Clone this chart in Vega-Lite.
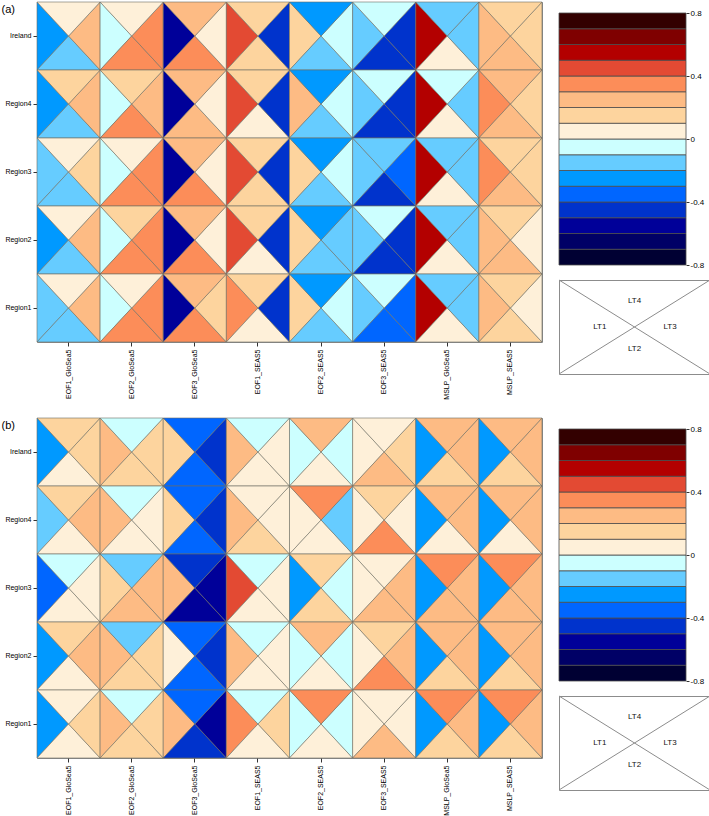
{
  "$schema": "https://vega.github.io/schema/vega-lite/v6.json",
  "background": "white",
  "padding": {"left": 0, "top": 0, "right": 0, "bottom": 0},
  "config": {
    "font": "Liberation Sans",
    "view": {"stroke": "#8c8c8c", "strokeWidth": 1},
    "axis": {"labelFont": "Liberation Sans", "titleFont": "Liberation Sans", "labelColor": "#000", "tickColor": "#333", "domain": false, "grid": false}
  },
  "datasets": {
    "cells": [
      {"p":"a","r":"Ireland","m":"EOF1_GloSea5","LT1":-0.25,"LT2":-0.15,"LT3":0.25,"LT4":0.05},
      {"p":"a","r":"Ireland","m":"EOF2_GloSea5","LT1":-0.05,"LT2":0.35,"LT3":0.35,"LT4":0.05},
      {"p":"a","r":"Ireland","m":"EOF3_GloSea5","LT1":-0.55,"LT2":0.35,"LT3":0.05,"LT4":0.25},
      {"p":"a","r":"Ireland","m":"EOF1_SEAS5","LT1":0.45,"LT2":0.15,"LT3":-0.45,"LT4":0.15},
      {"p":"a","r":"Ireland","m":"EOF2_SEAS5","LT1":0.15,"LT2":-0.15,"LT3":-0.05,"LT4":-0.25},
      {"p":"a","r":"Ireland","m":"EOF3_SEAS5","LT1":-0.15,"LT2":-0.45,"LT3":-0.45,"LT4":-0.05},
      {"p":"a","r":"Ireland","m":"MSLP_GloSea5","LT1":0.55,"LT2":0.05,"LT3":-0.15,"LT4":-0.15},
      {"p":"a","r":"Ireland","m":"MSLP_SEAS5","LT1":0.25,"LT2":0.25,"LT3":0.15,"LT4":0.15},
      {"p":"a","r":"Region4","m":"EOF1_GloSea5","LT1":-0.25,"LT2":-0.15,"LT3":0.25,"LT4":0.15},
      {"p":"a","r":"Region4","m":"EOF2_GloSea5","LT1":-0.05,"LT2":0.35,"LT3":0.25,"LT4":0.15},
      {"p":"a","r":"Region4","m":"EOF3_GloSea5","LT1":-0.55,"LT2":0.25,"LT3":0.05,"LT4":0.25},
      {"p":"a","r":"Region4","m":"EOF1_SEAS5","LT1":0.45,"LT2":0.05,"LT3":-0.45,"LT4":0.15},
      {"p":"a","r":"Region4","m":"EOF2_SEAS5","LT1":0.25,"LT2":-0.15,"LT3":-0.05,"LT4":-0.25},
      {"p":"a","r":"Region4","m":"EOF3_SEAS5","LT1":-0.15,"LT2":-0.45,"LT3":-0.45,"LT4":-0.05},
      {"p":"a","r":"Region4","m":"MSLP_GloSea5","LT1":0.55,"LT2":0.05,"LT3":-0.15,"LT4":-0.05},
      {"p":"a","r":"Region4","m":"MSLP_SEAS5","LT1":0.35,"LT2":0.25,"LT3":0.15,"LT4":0.25},
      {"p":"a","r":"Region3","m":"EOF1_GloSea5","LT1":-0.15,"LT2":-0.15,"LT3":0.15,"LT4":0.05},
      {"p":"a","r":"Region3","m":"EOF2_GloSea5","LT1":-0.05,"LT2":0.35,"LT3":0.35,"LT4":0.05},
      {"p":"a","r":"Region3","m":"EOF3_GloSea5","LT1":-0.55,"LT2":0.35,"LT3":0.05,"LT4":0.25},
      {"p":"a","r":"Region3","m":"EOF1_SEAS5","LT1":0.45,"LT2":0.15,"LT3":-0.45,"LT4":0.15},
      {"p":"a","r":"Region3","m":"EOF2_SEAS5","LT1":0.15,"LT2":-0.15,"LT3":-0.05,"LT4":-0.25},
      {"p":"a","r":"Region3","m":"EOF3_SEAS5","LT1":-0.15,"LT2":-0.45,"LT3":-0.35,"LT4":-0.15},
      {"p":"a","r":"Region3","m":"MSLP_GloSea5","LT1":0.55,"LT2":0.05,"LT3":-0.15,"LT4":-0.15},
      {"p":"a","r":"Region3","m":"MSLP_SEAS5","LT1":0.35,"LT2":0.25,"LT3":0.15,"LT4":0.15},
      {"p":"a","r":"Region2","m":"EOF1_GloSea5","LT1":-0.25,"LT2":-0.15,"LT3":0.25,"LT4":0.05},
      {"p":"a","r":"Region2","m":"EOF2_GloSea5","LT1":-0.05,"LT2":0.35,"LT3":0.35,"LT4":0.15},
      {"p":"a","r":"Region2","m":"EOF3_GloSea5","LT1":-0.55,"LT2":0.35,"LT3":0.05,"LT4":0.25},
      {"p":"a","r":"Region2","m":"EOF1_SEAS5","LT1":0.45,"LT2":0.05,"LT3":-0.45,"LT4":0.15},
      {"p":"a","r":"Region2","m":"EOF2_SEAS5","LT1":0.15,"LT2":-0.15,"LT3":-0.15,"LT4":-0.25},
      {"p":"a","r":"Region2","m":"EOF3_SEAS5","LT1":-0.15,"LT2":-0.45,"LT3":-0.45,"LT4":-0.05},
      {"p":"a","r":"Region2","m":"MSLP_GloSea5","LT1":0.55,"LT2":0.05,"LT3":-0.15,"LT4":-0.15},
      {"p":"a","r":"Region2","m":"MSLP_SEAS5","LT1":0.25,"LT2":0.25,"LT3":0.05,"LT4":0.15},
      {"p":"a","r":"Region1","m":"EOF1_GloSea5","LT1":-0.15,"LT2":-0.15,"LT3":0.25,"LT4":0.05},
      {"p":"a","r":"Region1","m":"EOF2_GloSea5","LT1":-0.05,"LT2":0.35,"LT3":0.35,"LT4":0.05},
      {"p":"a","r":"Region1","m":"EOF3_GloSea5","LT1":-0.55,"LT2":0.35,"LT3":0.15,"LT4":0.25},
      {"p":"a","r":"Region1","m":"EOF1_SEAS5","LT1":0.35,"LT2":0.05,"LT3":-0.45,"LT4":0.15},
      {"p":"a","r":"Region1","m":"EOF2_SEAS5","LT1":0.15,"LT2":-0.15,"LT3":-0.05,"LT4":-0.25},
      {"p":"a","r":"Region1","m":"EOF3_SEAS5","LT1":-0.15,"LT2":-0.35,"LT3":-0.35,"LT4":-0.05},
      {"p":"a","r":"Region1","m":"MSLP_GloSea5","LT1":0.55,"LT2":0.05,"LT3":-0.15,"LT4":-0.15},
      {"p":"a","r":"Region1","m":"MSLP_SEAS5","LT1":0.25,"LT2":0.15,"LT3":0.05,"LT4":0.15},
      {"p":"b","r":"Ireland","m":"EOF1_GloSea5","LT1":-0.25,"LT2":0.05,"LT3":0.15,"LT4":0.15},
      {"p":"b","r":"Ireland","m":"EOF2_GloSea5","LT1":0.25,"LT2":0.15,"LT3":0.15,"LT4":-0.05},
      {"p":"b","r":"Ireland","m":"EOF3_GloSea5","LT1":0.15,"LT2":-0.35,"LT3":-0.45,"LT4":-0.35},
      {"p":"b","r":"Ireland","m":"EOF1_SEAS5","LT1":0.25,"LT2":0.05,"LT3":0.05,"LT4":-0.05},
      {"p":"b","r":"Ireland","m":"EOF2_SEAS5","LT1":-0.05,"LT2":0.05,"LT3":-0.05,"LT4":0.25},
      {"p":"b","r":"Ireland","m":"EOF3_SEAS5","LT1":0.05,"LT2":0.25,"LT3":0.15,"LT4":0.05},
      {"p":"b","r":"Ireland","m":"MSLP_GloSea5","LT1":-0.25,"LT2":0.15,"LT3":0.25,"LT4":0.25},
      {"p":"b","r":"Ireland","m":"MSLP_SEAS5","LT1":-0.25,"LT2":0.15,"LT3":0.25,"LT4":0.25},
      {"p":"b","r":"Region4","m":"EOF1_GloSea5","LT1":-0.15,"LT2":0.05,"LT3":0.25,"LT4":0.15},
      {"p":"b","r":"Region4","m":"EOF2_GloSea5","LT1":0.25,"LT2":0.05,"LT3":0.05,"LT4":-0.05},
      {"p":"b","r":"Region4","m":"EOF3_GloSea5","LT1":0.15,"LT2":-0.35,"LT3":-0.45,"LT4":-0.35},
      {"p":"b","r":"Region4","m":"EOF1_SEAS5","LT1":0.25,"LT2":0.15,"LT3":0.05,"LT4":0.05},
      {"p":"b","r":"Region4","m":"EOF2_SEAS5","LT1":0.05,"LT2":0.05,"LT3":-0.15,"LT4":0.35},
      {"p":"b","r":"Region4","m":"EOF3_SEAS5","LT1":0.05,"LT2":0.35,"LT3":0.05,"LT4":0.15},
      {"p":"b","r":"Region4","m":"MSLP_GloSea5","LT1":-0.25,"LT2":0.05,"LT3":0.25,"LT4":0.25},
      {"p":"b","r":"Region4","m":"MSLP_SEAS5","LT1":-0.25,"LT2":0.05,"LT3":0.25,"LT4":0.25},
      {"p":"b","r":"Region3","m":"EOF1_GloSea5","LT1":-0.35,"LT2":0.05,"LT3":0.05,"LT4":-0.05},
      {"p":"b","r":"Region3","m":"EOF2_GloSea5","LT1":0.15,"LT2":0.25,"LT3":0.25,"LT4":-0.15},
      {"p":"b","r":"Region3","m":"EOF3_GloSea5","LT1":0.25,"LT2":-0.55,"LT3":-0.55,"LT4":-0.45},
      {"p":"b","r":"Region3","m":"EOF1_SEAS5","LT1":0.45,"LT2":0.05,"LT3":0.05,"LT4":-0.05},
      {"p":"b","r":"Region3","m":"EOF2_SEAS5","LT1":-0.25,"LT2":0.15,"LT3":-0.05,"LT4":0.15},
      {"p":"b","r":"Region3","m":"EOF3_SEAS5","LT1":0.05,"LT2":0.25,"LT3":0.25,"LT4":0.05},
      {"p":"b","r":"Region3","m":"MSLP_GloSea5","LT1":-0.25,"LT2":0.25,"LT3":0.25,"LT4":0.35},
      {"p":"b","r":"Region3","m":"MSLP_SEAS5","LT1":-0.25,"LT2":0.25,"LT3":0.25,"LT4":0.35},
      {"p":"b","r":"Region2","m":"EOF1_GloSea5","LT1":-0.25,"LT2":0.05,"LT3":0.25,"LT4":0.15},
      {"p":"b","r":"Region2","m":"EOF2_GloSea5","LT1":0.25,"LT2":0.15,"LT3":0.15,"LT4":-0.15},
      {"p":"b","r":"Region2","m":"EOF3_GloSea5","LT1":0.05,"LT2":-0.35,"LT3":-0.45,"LT4":-0.35},
      {"p":"b","r":"Region2","m":"EOF1_SEAS5","LT1":0.25,"LT2":0.05,"LT3":0.05,"LT4":-0.05},
      {"p":"b","r":"Region2","m":"EOF2_SEAS5","LT1":-0.05,"LT2":0.05,"LT3":-0.05,"LT4":0.25},
      {"p":"b","r":"Region2","m":"EOF3_SEAS5","LT1":0.05,"LT2":0.35,"LT3":0.25,"LT4":0.15},
      {"p":"b","r":"Region2","m":"MSLP_GloSea5","LT1":-0.25,"LT2":0.15,"LT3":0.25,"LT4":0.25},
      {"p":"b","r":"Region2","m":"MSLP_SEAS5","LT1":-0.25,"LT2":0.15,"LT3":0.25,"LT4":0.25},
      {"p":"b","r":"Region1","m":"EOF1_GloSea5","LT1":-0.25,"LT2":0.05,"LT3":0.15,"LT4":0.05},
      {"p":"b","r":"Region1","m":"EOF2_GloSea5","LT1":0.25,"LT2":0.15,"LT3":0.15,"LT4":-0.05},
      {"p":"b","r":"Region1","m":"EOF3_GloSea5","LT1":0.25,"LT2":-0.45,"LT3":-0.55,"LT4":-0.35},
      {"p":"b","r":"Region1","m":"EOF1_SEAS5","LT1":0.35,"LT2":0.05,"LT3":0.15,"LT4":-0.05},
      {"p":"b","r":"Region1","m":"EOF2_SEAS5","LT1":-0.05,"LT2":0.05,"LT3":-0.05,"LT4":0.35},
      {"p":"b","r":"Region1","m":"EOF3_SEAS5","LT1":0.05,"LT2":0.25,"LT3":0.05,"LT4":0.05},
      {"p":"b","r":"Region1","m":"MSLP_GloSea5","LT1":-0.25,"LT2":0.15,"LT3":0.25,"LT4":0.35},
      {"p":"b","r":"Region1","m":"MSLP_SEAS5","LT1":-0.25,"LT2":0.15,"LT3":0.25,"LT4":0.35}
    ],
    "bins": [
      {"lo":-0.8,"hi":-0.7,"mid":-0.75},{"lo":-0.7,"hi":-0.6,"mid":-0.65},{"lo":-0.6,"hi":-0.5,"mid":-0.55},{"lo":-0.5,"hi":-0.4,"mid":-0.45},
      {"lo":-0.4,"hi":-0.3,"mid":-0.35},{"lo":-0.3,"hi":-0.2,"mid":-0.25},{"lo":-0.2,"hi":-0.1,"mid":-0.15},{"lo":-0.1,"hi":0,"mid":-0.05},
      {"lo":0,"hi":0.1,"mid":0.05},{"lo":0.1,"hi":0.2,"mid":0.15},{"lo":0.2,"hi":0.3,"mid":0.25},{"lo":0.3,"hi":0.4,"mid":0.35},
      {"lo":0.4,"hi":0.5,"mid":0.45},{"lo":0.5,"hi":0.6,"mid":0.55},{"lo":0.6,"hi":0.7,"mid":0.65},{"lo":0.7,"hi":0.8,"mid":0.75}
    ]
  },
  "vconcat": [
    {
      "hconcat": [
        {
          "width": 505, "height": 340,
          "data": {"name": "cells"},
          "transform": [{"filter": "datum.p == 'a'"}, {"fold": ["LT1","LT2","LT3","LT4"], "as": ["lt","v"]}],
          "mark": {"type": "point", "filled": true, "opacity": 1, "size": 4624, "stroke": "#6d6d62", "strokeWidth": 0.6},
          "encoding": {
            "x": {"field": "m", "type": "nominal", "scale": {"type": "band", "paddingInner": 0, "paddingOuter": 0, "domain": ["EOF1_GloSea5","EOF2_GloSea5","EOF3_GloSea5","EOF1_SEAS5","EOF2_SEAS5","EOF3_SEAS5","MSLP_GloSea5","MSLP_SEAS5"]},
              "axis": {"title": null, "labelAngle": -90, "labelAlign": "right", "labelBaseline": "middle", "labelFontSize": 7, "tickSize": 4, "labelPadding": 3}},
            "y": {"field": "r", "type": "nominal", "scale": {"type": "band", "paddingInner": 0, "paddingOuter": 0, "domain": ["Ireland","Region4","Region3","Region2","Region1"]},
              "axis": {"title": "(a)", "titleAngle": 0, "titleX": -36, "titleY": 7, "titleAlign": "left", "titleBaseline": "middle", "titleFontSize": 11, "titleFontWeight": "normal", "labelFontSize": 7, "tickSize": 4, "labelPadding": 2}},
            "shape": {"field": "lt", "type": "nominal", "legend": null, "scale": {"domain": ["LT1","LT2","LT3","LT4"], "range": ["M-0.9283,-1L0,0L-0.9283,1Z", "M-0.9283,1L0,0L0.9283,1Z", "M0.9283,-1L0,0L0.9283,1Z", "M-0.9283,-1L0,0L0.9283,-1Z"]}},
            "fill": {"field": "v", "type": "quantitative", "legend": null, "scale": {"type": "threshold", "domain": [-0.7,-0.6,-0.5,-0.4,-0.3,-0.2,-0.1,0,0.1,0.2,0.3,0.4,0.5,0.6,0.7], "range": ["#000033","#000066","#000099","#0033CC","#0066FF","#0099FF","#66CCFF","#CCFFFF","#FEF0D9","#FDD49E","#FDBB84","#FC8D59","#E34A33","#B30000","#7F0000","#330000"]}}
          }
        },
        {
          "vconcat": [
            {
              "width": 127, "height": 263,
              "view": {"stroke": null},
              "data": {"name": "bins"},
              "mark": {"type": "rect", "stroke": "#4d4d4d", "strokeWidth": 0.8},
              "encoding": {
                "x": {"datum": 0, "type": "quantitative", "scale": {"domain": [0, 1], "nice": false}, "axis": null},
                "x2": {"datum": 1},
                "y": {"field": "lo", "type": "quantitative", "scale": {"domain": [-0.8, 0.8], "range": [263, 11], "nice": false, "zero": false},
                  "axis": {"orient": "right", "title": null, "values": [-0.8,-0.4,0,0.4,0.8], "labelExpr": "datum.value < 0 ? '-' + format(-datum.value, '.1f') : (datum.value == 0 ? '0' : format(datum.value, '.1f'))", "labelFontSize": 8, "tickSize": 3, "labelPadding": 1}},
                "y2": {"field": "hi"},
                "fill": {"field": "mid", "type": "quantitative", "legend": null, "scale": {"type": "threshold", "domain": [-0.7,-0.6,-0.5,-0.4,-0.3,-0.2,-0.1,0,0.1,0.2,0.3,0.4,0.5,0.6,0.7], "range": ["#000033","#000066","#000099","#0033CC","#0066FF","#0099FF","#66CCFF","#CCFFFF","#FEF0D9","#FDD49E","#FDBB84","#FC8D59","#E34A33","#B30000","#7F0000","#330000"]}}
              }
            },
            {
              "width": 151, "height": 94,
              "data": {"values": [{}]},
              "layer": [
                {"mark": {"type": "rule", "color": "#8c8c8c"}, "encoding": {"x": {"datum": 0, "type": "quantitative", "scale": {"domain": [0, 1], "nice": false}, "axis": null}, "y": {"datum": 0, "type": "quantitative", "scale": {"domain": [0, 1], "nice": false}, "axis": null}, "x2": {"datum": 1}, "y2": {"datum": 1}}},
                {"mark": {"type": "rule", "color": "#8c8c8c"}, "encoding": {"x": {"datum": 0, "type": "quantitative"}, "y": {"datum": 1, "type": "quantitative"}, "x2": {"datum": 1}, "y2": {"datum": 0}}},
                {"mark": {"type": "text", "text": "LT4", "fontSize": 8, "color": "#111"}, "encoding": {"x": {"datum": 0.5, "type": "quantitative"}, "y": {"datum": 0.78, "type": "quantitative"}}},
                {"mark": {"type": "text", "text": "LT1", "fontSize": 8, "color": "#111"}, "encoding": {"x": {"datum": 0.27, "type": "quantitative"}, "y": {"datum": 0.5, "type": "quantitative"}}},
                {"mark": {"type": "text", "text": "LT3", "fontSize": 8, "color": "#111"}, "encoding": {"x": {"datum": 0.735, "type": "quantitative"}, "y": {"datum": 0.5, "type": "quantitative"}}},
                {"mark": {"type": "text", "text": "LT2", "fontSize": 8, "color": "#111"}, "encoding": {"x": {"datum": 0.5, "type": "quantitative"}, "y": {"datum": 0.27, "type": "quantitative"}}}
              ]
            }
          ],
          "spacing": 10
        }
      ],
      "spacing": 14
    },
    {
      "hconcat": [
        {
          "width": 505, "height": 340,
          "data": {"name": "cells"},
          "transform": [{"filter": "datum.p == 'b'"}, {"fold": ["LT1","LT2","LT3","LT4"], "as": ["lt","v"]}],
          "mark": {"type": "point", "filled": true, "opacity": 1, "size": 4624, "stroke": "#6d6d62", "strokeWidth": 0.6},
          "encoding": {
            "x": {"field": "m", "type": "nominal", "scale": {"type": "band", "paddingInner": 0, "paddingOuter": 0, "domain": ["EOF1_GloSea5","EOF2_GloSea5","EOF3_GloSea5","EOF1_SEAS5","EOF2_SEAS5","EOF3_SEAS5","MSLP_GloSea5","MSLP_SEAS5"]},
              "axis": {"title": null, "labelAngle": -90, "labelAlign": "right", "labelBaseline": "middle", "labelFontSize": 7, "tickSize": 4, "labelPadding": 3}},
            "y": {"field": "r", "type": "nominal", "scale": {"type": "band", "paddingInner": 0, "paddingOuter": 0, "domain": ["Ireland","Region4","Region3","Region2","Region1"]},
              "axis": {"title": "(b)", "titleAngle": 0, "titleX": -36, "titleY": 7, "titleAlign": "left", "titleBaseline": "middle", "titleFontSize": 11, "titleFontWeight": "normal", "labelFontSize": 7, "tickSize": 4, "labelPadding": 2}},
            "shape": {"field": "lt", "type": "nominal", "legend": null, "scale": {"domain": ["LT1","LT2","LT3","LT4"], "range": ["M-0.9283,-1L0,0L-0.9283,1Z", "M-0.9283,1L0,0L0.9283,1Z", "M0.9283,-1L0,0L0.9283,1Z", "M-0.9283,-1L0,0L0.9283,-1Z"]}},
            "fill": {"field": "v", "type": "quantitative", "legend": null, "scale": {"type": "threshold", "domain": [-0.7,-0.6,-0.5,-0.4,-0.3,-0.2,-0.1,0,0.1,0.2,0.3,0.4,0.5,0.6,0.7], "range": ["#000033","#000066","#000099","#0033CC","#0066FF","#0099FF","#66CCFF","#CCFFFF","#FEF0D9","#FDD49E","#FDBB84","#FC8D59","#E34A33","#B30000","#7F0000","#330000"]}}
          }
        },
        {
          "vconcat": [
            {
              "width": 127, "height": 263,
              "view": {"stroke": null},
              "data": {"name": "bins"},
              "mark": {"type": "rect", "stroke": "#4d4d4d", "strokeWidth": 0.8},
              "encoding": {
                "x": {"datum": 0, "type": "quantitative", "scale": {"domain": [0, 1], "nice": false}, "axis": null},
                "x2": {"datum": 1},
                "y": {"field": "lo", "type": "quantitative", "scale": {"domain": [-0.8, 0.8], "range": [263, 11], "nice": false, "zero": false},
                  "axis": {"orient": "right", "title": null, "values": [-0.8,-0.4,0,0.4,0.8], "labelExpr": "datum.value < 0 ? '-' + format(-datum.value, '.1f') : (datum.value == 0 ? '0' : format(datum.value, '.1f'))", "labelFontSize": 8, "tickSize": 3, "labelPadding": 1}},
                "y2": {"field": "hi"},
                "fill": {"field": "mid", "type": "quantitative", "legend": null, "scale": {"type": "threshold", "domain": [-0.7,-0.6,-0.5,-0.4,-0.3,-0.2,-0.1,0,0.1,0.2,0.3,0.4,0.5,0.6,0.7], "range": ["#000033","#000066","#000099","#0033CC","#0066FF","#0099FF","#66CCFF","#CCFFFF","#FEF0D9","#FDD49E","#FDBB84","#FC8D59","#E34A33","#B30000","#7F0000","#330000"]}}
              }
            },
            {
              "width": 151, "height": 94,
              "data": {"values": [{}]},
              "layer": [
                {"mark": {"type": "rule", "color": "#8c8c8c"}, "encoding": {"x": {"datum": 0, "type": "quantitative", "scale": {"domain": [0, 1], "nice": false}, "axis": null}, "y": {"datum": 0, "type": "quantitative", "scale": {"domain": [0, 1], "nice": false}, "axis": null}, "x2": {"datum": 1}, "y2": {"datum": 1}}},
                {"mark": {"type": "rule", "color": "#8c8c8c"}, "encoding": {"x": {"datum": 0, "type": "quantitative"}, "y": {"datum": 1, "type": "quantitative"}, "x2": {"datum": 1}, "y2": {"datum": 0}}},
                {"mark": {"type": "text", "text": "LT4", "fontSize": 8, "color": "#111"}, "encoding": {"x": {"datum": 0.5, "type": "quantitative"}, "y": {"datum": 0.78, "type": "quantitative"}}},
                {"mark": {"type": "text", "text": "LT1", "fontSize": 8, "color": "#111"}, "encoding": {"x": {"datum": 0.27, "type": "quantitative"}, "y": {"datum": 0.5, "type": "quantitative"}}},
                {"mark": {"type": "text", "text": "LT3", "fontSize": 8, "color": "#111"}, "encoding": {"x": {"datum": 0.735, "type": "quantitative"}, "y": {"datum": 0.5, "type": "quantitative"}}},
                {"mark": {"type": "text", "text": "LT2", "fontSize": 8, "color": "#111"}, "encoding": {"x": {"datum": 0.5, "type": "quantitative"}, "y": {"datum": 0.27, "type": "quantitative"}}}
              ]
            }
          ],
          "spacing": 10
        }
      ],
      "spacing": 14
    }
  ],
  "spacing": 16
}
